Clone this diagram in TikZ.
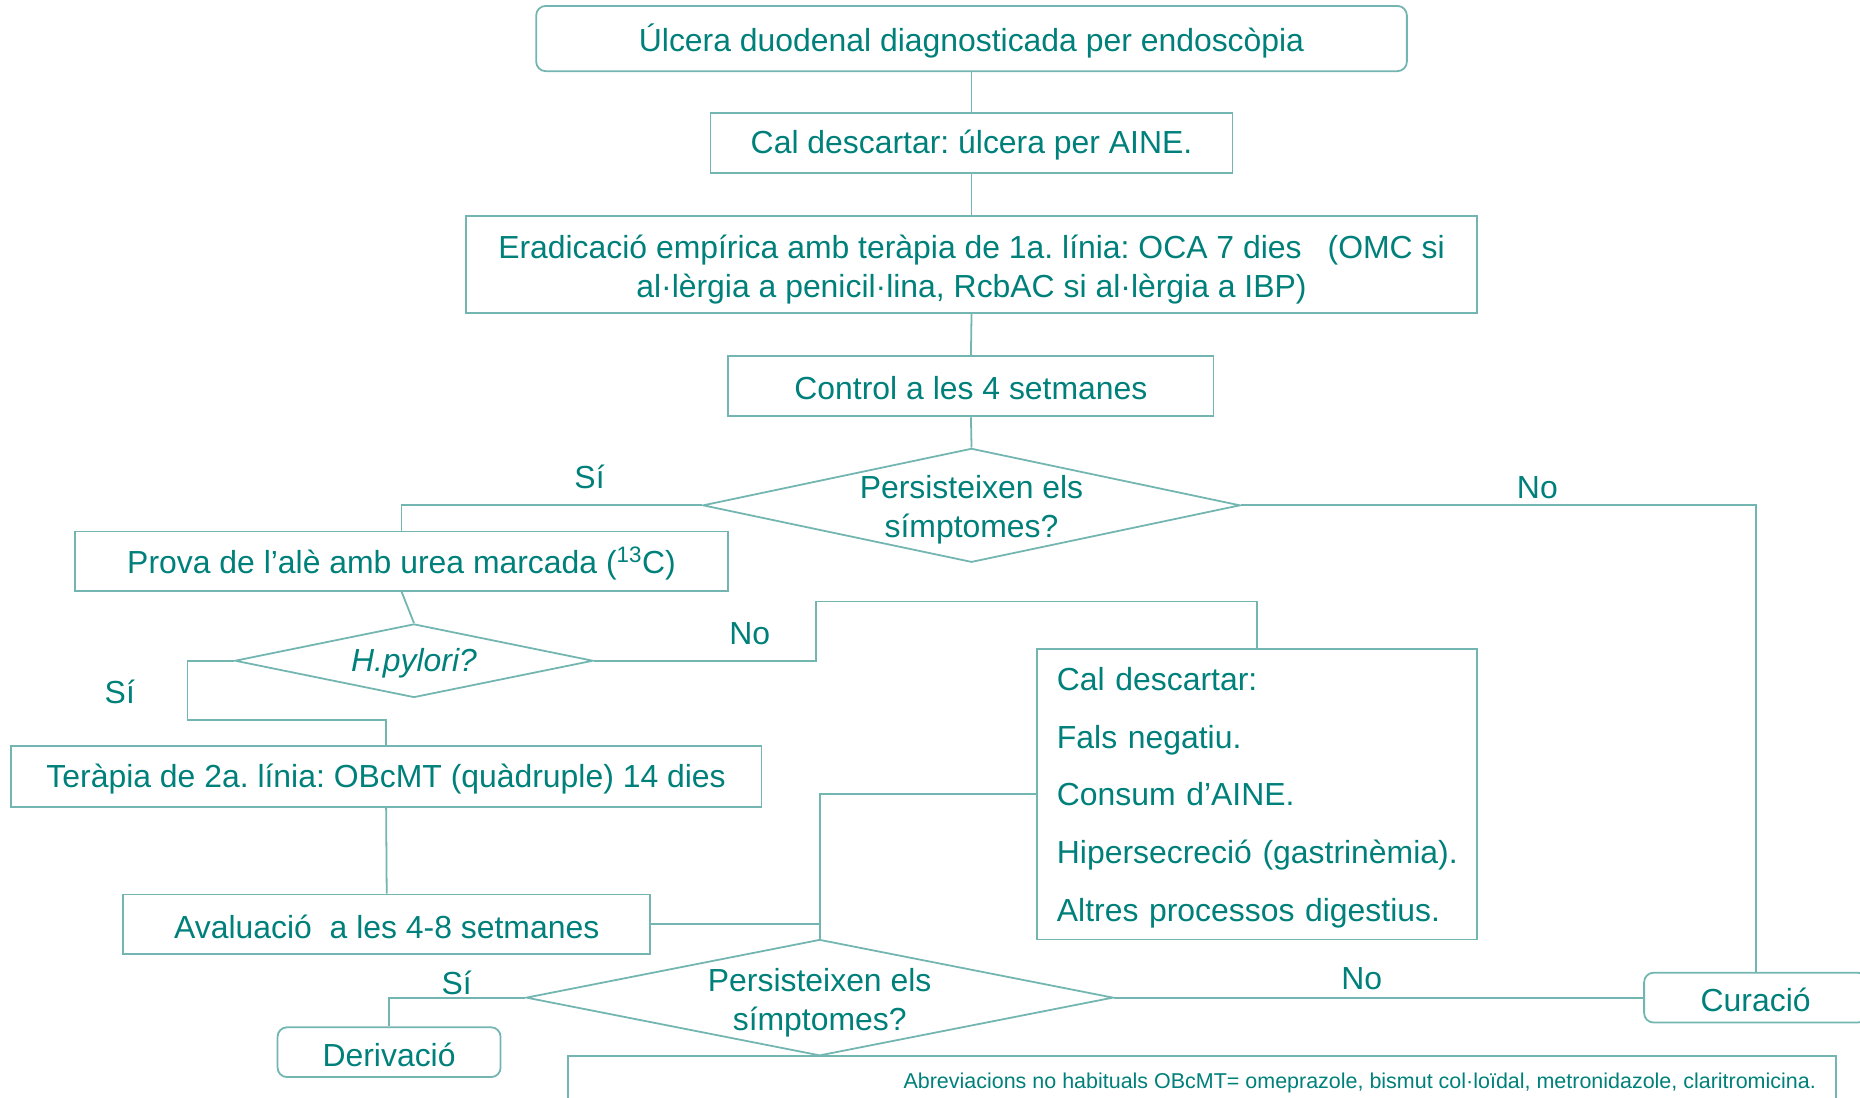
\documentclass[tikz,border=0pt]{standalone}
\usepackage{fontspec}
\setmainfont{Liberation Sans}
\usetikzlibrary{shapes.geometric,calc}
\definecolor{tx}{RGB}{0,128,122}
\definecolor{ln}{RGB}{115,181,176}
\newcommand\bigf{\fontsize{26.9}{33}\selectfont}
\frenchspacing
\tikzset{
  lbl/.style={text=tx, font=\bigf, inner sep=0pt},
  txt/.style={label={[lbl, align=center, yshift=-2pt]center:#1}},
  txtm/.style={label={[lbl, align=center, yshift=-4pt]center:#1}},
  box/.style={draw=ln, line width=1.5pt, inner sep=0pt},
  rbox/.style={box, rounded corners=8pt},
  dia/.style={draw=ln, line width=1.5pt, diamond, inner sep=0pt},
  conn/.style={draw=ln, line width=1.5pt},
}
\begin{document}
\begin{tikzpicture}[x=1pt,y=-1pt]
\useasboundingbox (0,0) rectangle (1568,925.6);
\clip (0,0) rectangle (1568,925.6);
% boxes
\node[rbox, minimum width=734pt, minimum height=55pt, txt={Úlcera duodenal diagnosticada per endoscòpia}] (n1) at (819,32.5) {};
\node[box, minimum width=440pt, minimum height=51pt, txt={Cal descartar: úlcera per AINE.}] (n2) at (819,120.5) {};
\node[box, minimum width=852pt, minimum height=82pt, txtm={Eradicació empírica amb teràpia de 1a. línia: OCA 7 dies\hspace{22pt}(OMC si\\al·lèrgia a penicil·lina, RcbAC si al·lèrgia a IBP)}] (n3) at (819,223) {};
\node[box, minimum width=409pt, minimum height=51pt, txt={Control a les 4 setmanes}] (n4) at (818.5,325.5) {};
\node[dia, minimum width=453pt, minimum height=96pt, txtm={Persisteixen els\\símptomes?}] (d1) at (819,426) {};
\node[box, minimum width=551pt, minimum height=50pt, txt={Prova de l’alè amb urea marcada (\textsuperscript{13}C)}] (n5) at (338.5,473) {};
\node[dia, minimum width=302pt, minimum height=62pt, txt={\itshape H.pylori?}] (d2) at (349,557) {};
\node[box, minimum width=633pt, minimum height=51pt, txt={Teràpia de 2a. línia: OBcMT (quàdruple) 14 dies}] (n6) at (325.5,654.5) {};
\node[box, minimum width=444pt, minimum height=50pt, txt={Avaluació\hspace{15pt}a les 4-8 setmanes}] (n7) at (326,779) {};
\node[box, minimum width=371pt, minimum height=245pt,
  label={[lbl, align=left, text width=350pt, font=\fontsize{26.9}{48.5}\selectfont, xshift=6.5pt, yshift=-3pt]center:Cal descartar:\\Fals negatiu.\\Consum d’AINE.\\Hipersecreció (gastrinèmia).\\Altres processos digestius.}] (n8) at (1059.5,669.5) {};
\node[dia, minimum width=495pt, minimum height=98pt, txtm={Persisteixen els\\símptomes?}] (d3) at (691,841) {};
\node[rbox, minimum width=188pt, minimum height=42pt, txt={Derivació}] (n9) at (328,887) {};
\node[rbox, minimum width=188pt, minimum height=42pt, txt={Curació}] (n10) at (1480,841) {};
\node[box, minimum width=1069pt, minimum height=70pt] (n11) at (1013.5,925) {};
\node[lbl, font=\fontsize{18.1}{22}\selectfont, anchor=east, yshift=-2pt] (ab) at (1531,911) {Abreviacions no habituals OBcMT= omeprazole, bismut col·loïdal, metronidazole, claritromicina.};
% connectors
\draw[conn] (n1.south) -- (n2.north);
\draw[conn] (n2.south) -- (n3.north);
\draw[conn] (n3.south) -- (n4.north);
\draw[conn] (n4.south) -- (d1.north);
\draw[conn] (d1.west) -| (n5.north);
\draw[conn] (d1.east) -| (n10.north);
\draw[conn] (n5.south) -- (d2.north);
\coordinate (k1) at (688,507);
\draw[conn] (d2.east) -| (k1) -| (n8.north);
\coordinate (k2) at (158,607);
\draw[conn] (d2.west) -| (k2) -| (n6.north);
\draw[conn] (n6.south) -- (n7.north);
\draw[conn] (n7.east) -- (n7.east -| d3.north);
\draw[conn] (n8.west) -| (d3.north);
\draw[conn] (d3.west) -| (n9.north);
\draw[conn] (d3.east) -- (n10.west);
% labels
\node[lbl] (s1) at (497,402) {Sí};
\node[lbl] (o1) at (1296,411) {No};
\node[lbl] (o2) at (632,534) {No};
\node[lbl] (s2) at (101,583) {Sí};
\node[lbl] (s3) at (385,829) {Sí};
\node[lbl] (o3) at (1148,825) {No};
\end{tikzpicture}
\end{document}
